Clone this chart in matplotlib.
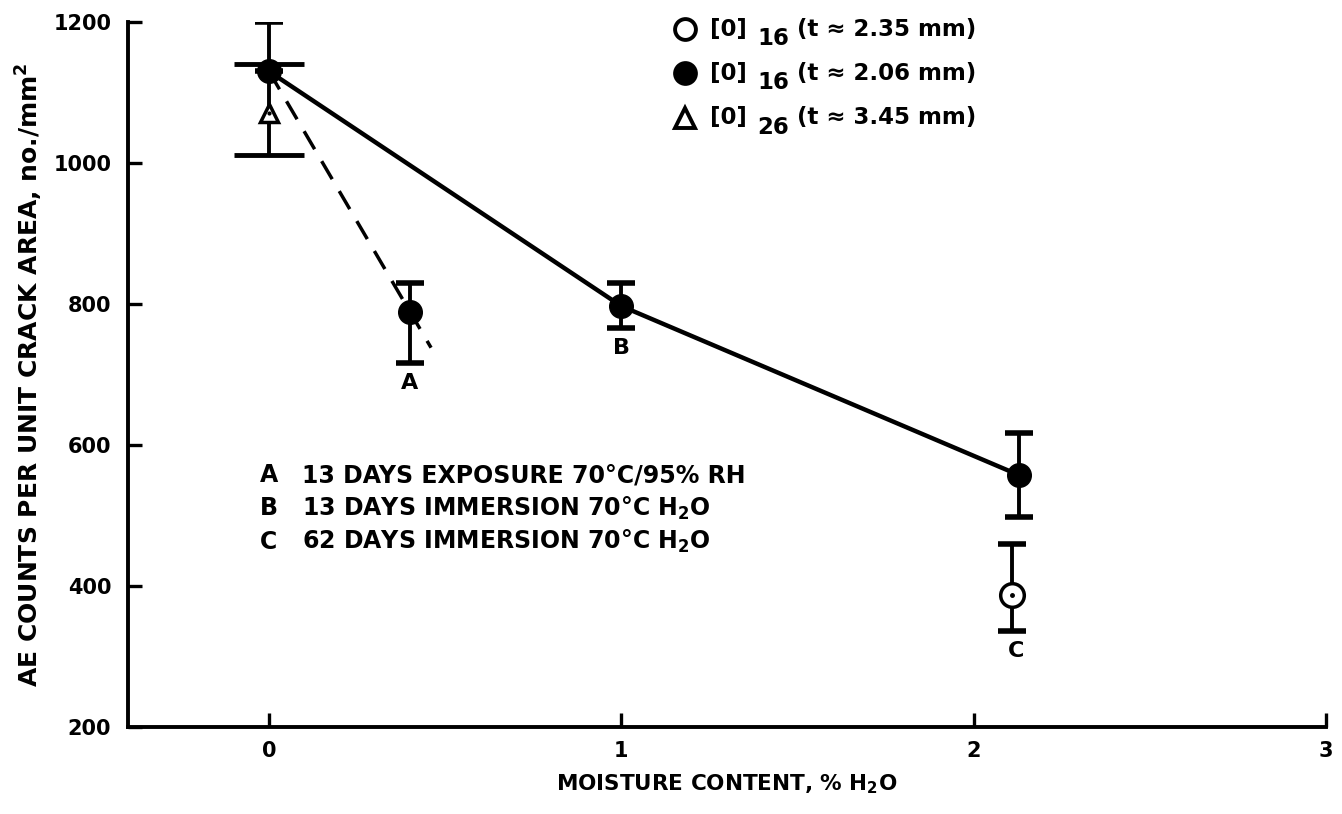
import numpy as np
import matplotlib
matplotlib.use('Agg')
import matplotlib.pyplot as plt

plt.rcParams['font.family'] = ['DejaVu Sans']
plt.rcParams['font.weight'] = 'bold'
plt.rcParams['axes.labelweight'] = 'bold'
plt.rcParams['mathtext.fontset'] = 'dejavusans'
plt.rcParams['mathtext.default'] = 'bf'

#----- data
# filled circles, [0]16 t~2.06 mm
filled_x = [0.0, 0.40, 1.0, 2.13]
filled_y = [1130, 789, 797, 557]
filled_lo = [0, 716, 766, 498]
filled_hi = [1200, 830, 830, 617]
# open circle, [0]16 t~2.35 mm
open_x = [2.11]
open_y = [387]
open_lo = [336]
open_hi = [460]
# open triangle, [0]26 t~3.45 mm
tri_x = [0.0]
tri_y = [1071]
tri_lo = [1012]
tri_hi = [1141]
# dashed trend through A
dash_x = [0.0, 0.46]
dash_y = [1130, 738]
# solid trend (series 0, B, C)
solid_idx = [0, 2, 3]
# condition labels under the lowest bar
cond_lab = ['A', 'B', 'C']
cond_x = [0.40, 1.0, 2.12]
cond_lo = [716, 766, 336]

legend_rows = [('o', 'white', '16', '(t \u2248 2.35 mm)'),
               ('o', 'black', '16', '(t \u2248 2.06 mm)'),
               ('^', 'white', '26', '(t \u2248 3.45 mm)')]
notes = [('A', '13 DAYS EXPOSURE 70\u00b0C/95% RH'),
         ('B', '13 DAYS IMMERSION 70\u00b0C H$_2$O'),
         ('C', '62 DAYS IMMERSION 70\u00b0C H$_2$O')]

fig = plt.figure(figsize=(13.42, 8.14), dpi=100)
ax = fig.add_axes([0.0954, 0.1069, 0.8927, 0.8661])

#----- lines
ax.plot([filled_x[i] for i in solid_idx], [filled_y[i] for i in solid_idx],
        'k-', lw=3.2, zorder=2)
ax.plot(dash_x, dash_y, 'k--', lw=2.5, dashes=(6, 4), zorder=2)

#----- error bars
fx = np.array(filled_x)
fy = np.array(filled_y)
ferr = [fy - np.array(filled_lo), np.array(filled_hi) - fy]
ferr[0][0] = 0  # lower part at x=0 hidden under triangle's bar
ax.errorbar(fx, fy, yerr=ferr, fmt='none', ecolor='k', elinewidth=2.8,
            capsize=10, capthick=4, zorder=3)
ax.errorbar(open_x, open_y,
            yerr=[[open_y[0] - open_lo[0]], [open_hi[0] - open_y[0]]],
            fmt='none', ecolor='k', elinewidth=2.8, capsize=10, capthick=4, zorder=3)
ax.errorbar(tri_x, tri_y,
            yerr=[[tri_y[0] - tri_lo[0]], [tri_hi[0] - tri_y[0]]],
            fmt='none', ecolor='k', elinewidth=2.8, capsize=25, capthick=3.5, zorder=3)

#----- markers
ax.plot(fx, fy, 'o', color='k', ms=17, zorder=4)
ax.plot(open_x, open_y, 'o', mfc='white', mec='k', mew=2.5, ms=17, zorder=4)
ax.plot(open_x, open_y, '.', color='k', ms=5, zorder=5)
ax.plot(tri_x, tri_y, '^', mfc='white', mec='k', mew=2.5, ms=13, zorder=4)
ax.plot(tri_x, tri_y, '.', color='k', ms=4, zorder=5)

#----- point labels
for x, lo, lab in zip(cond_x, cond_lo, cond_lab):
    ax.text(x, lo - 14, lab, ha='center', va='top', fontsize=16)

#----- legend (top right)
for k, (m, fc, sub, txt) in enumerate(legend_rows):
    yy = 0.99 - k * 0.063
    ax.plot([0.465], [yy], m, mfc=fc, mec='k', mew=2.8,
            ms=15 if m == 'o' else 14, transform=ax.transAxes, clip_on=False)
    ax.text(0.486, yy, '[0]', transform=ax.transAxes, va='center', fontsize=16.5)
    ax.text(0.525, yy - 0.013, sub, transform=ax.transAxes, va='center', fontsize=16.5)
    ax.text(0.558, yy, txt, transform=ax.transAxes, va='center', fontsize=16.5)

#----- notes A, B, C
for k, (lab, txt) in enumerate(notes):
    yy = 557 - k * 47
    ax.text(0.0, yy, lab, va='center', ha='center', fontsize=17)
    ax.text(0.095, yy, txt, va='center', ha='left', fontsize=17)

#----- axes
ax.set_xlim(-0.4, 3.0)
ax.set_ylim(200, 1200)
ax.set_xticks([0, 1, 2, 3])
ax.set_yticks([200, 400, 600, 800, 1000, 1200])
for s in ['top', 'right']:
    ax.spines[s].set_visible(False)
for s in ['left', 'bottom']:
    ax.spines[s].set_linewidth(2.8)
ax.tick_params(direction='in', length=10, width=2.4, labelsize=15)
ax.tick_params(axis='y', pad=12)
ax.tick_params(axis='x', pad=10)
ax.set_xlabel('MOISTURE CONTENT, % H$_2$O', fontsize=15.5, labelpad=8)
ax.set_ylabel('AE COUNTS PER UNIT CRACK AREA, no./mm$^2$', fontsize=18,
              labelpad=6)

plt.savefig('out.png', dpi=100)
